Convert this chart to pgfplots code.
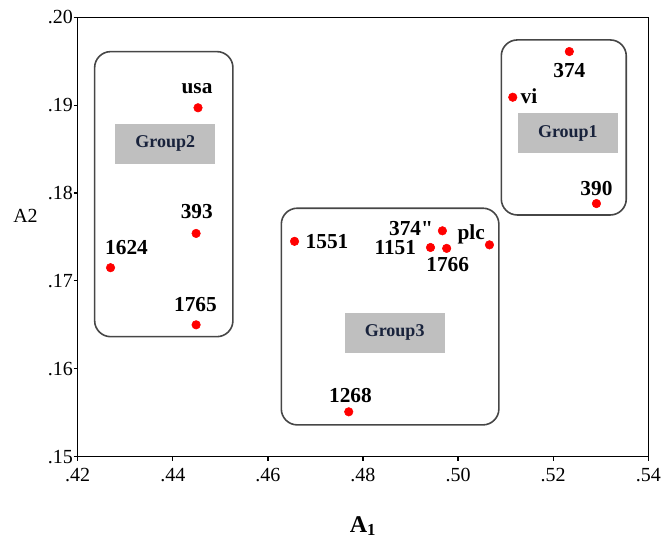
\documentclass[border=0pt]{standalone}
\usepackage{pgfplots}
\pgfplotsset{compat=1.18}
\usepackage{pgfplotstable}
\usepackage{fontspec}
\setmainfont{Liberation Serif}
\newfontfamily\rawserif{Liberation Serif}[Ligatures=TeXOff]
\newcommand\qlabel{{\rawserif 374"}}
\definecolor{grpgray}{RGB}{191,191,191}
\definecolor{boxline}{RGB}{70,70,70}
\definecolor{grptext}{RGB}{25,35,60}

\pgfplotstableread{
x y label dx dy
0.4453 0.1897 usa -0.75 14.5
0.4449 0.1754 393 0.5 16.2
0.4269 0.1715 1624 12 15.3
0.4449 0.1650 1765 -0.5 15
0.4656 0.1745 1551 24.4 0
0.4967 0.1757 {\qlabel} -23.5 2.0
0.4942 0.1738 1151 -26.4 0
0.4976 0.1737 1766 0.75 -12.5
0.5066 0.1741 plc -13.7 7.5
0.4770 0.1551 1268 1.3 12.5
0.5234 0.1961 374 0 -14
0.5115 0.1909 vi 12.1 0.5
0.5291 0.1788 390 0 11.3
}\pts

\begin{document}
\begin{tikzpicture}
\path[use as bounding box] (-58.3pt,-61.7pt) rectangle (440.5pt,342.5pt);
\begin{axis}[
  at={(0pt,0pt)}, anchor=south west,
  width=427.95pt, height=329.55pt, scale only axis,
  xmin=0.42, xmax=0.54, ymin=0.15, ymax=0.20,
  xtick={0.42,0.44,0.46,0.48,0.50,0.52,0.54},
  xticklabels={.42,.44,.46,.48,.50,.52,.54},
  ytick={0.15,0.16,0.17,0.18,0.19,0.20},
  yticklabels={.15,.16,.17,.18,.19,.20},
  tick pos=left, tick align=outside,
  major tick length=3pt,
  tick style={black, line width=0.9pt},
  axis line style={black, line width=1.1pt},
  ticklabel style={font=\fontsize{15}{17}\selectfont},
  xticklabel style={yshift=-2.5pt},
  yticklabel style={inner xsep=0.5pt},
  xlabel={\textbf{A\textsubscript{1}}},
  xlabel style={at={(rel axis cs:0.5,-0.158)}, anchor=center, font=\fontsize{18}{20}\selectfont},
  ylabel={A2},
  ylabel style={at={(rel axis cs:-0.0915,0.548)}, anchor=center, rotate=-90, font=\fontsize{15}{17}\selectfont},
  clip=false,
]
\draw[boxline, line width=1.2pt, rounded corners=12pt] (axis cs:0.42356,0.16365) rectangle (axis cs:0.45264,0.19609);
\draw[boxline, line width=1.2pt, rounded corners=12pt] (axis cs:0.46282,0.15361) rectangle (axis cs:0.50858,0.17827);
\draw[boxline, line width=1.2pt, rounded corners=12pt] (axis cs:0.50909,0.17750) rectangle (axis cs:0.53537,0.19742);
\node[fill=grpgray, minimum width=75pt, minimum height=30pt, inner sep=0pt, text=grptext, font=\bfseries\fontsize{13.5}{15}\selectfont] at (axis cs:0.43842,0.18562) {Group2};
\node[fill=grpgray, minimum width=75pt, minimum height=30pt, inner sep=0pt, text=grptext, font=\bfseries\fontsize{13.5}{15}\selectfont] at (axis cs:0.48666,0.16411) {Group3};
\node[fill=grpgray, minimum width=75pt, minimum height=30pt, inner sep=0pt, text=grptext, font=\bfseries\fontsize{13.5}{15}\selectfont] at (axis cs:0.52309,0.18680) {Group1};
\addplot[only marks, mark=*, mark size=3.2pt, color=red, mark options={draw=red, fill=red},
  nodes near coords, point meta=explicit symbolic,
  visualization depends on={\thisrow{dx}\as\ldx},
  visualization depends on={\thisrow{dy}\as\ldy},
  every node near coord/.append style={anchor=center, xshift=\ldx pt, yshift=\ldy pt, text=black, inner sep=0pt, font=\bfseries\fontsize{16}{18}\selectfont}
] table[x=x, y=y, meta=label] {\pts};
\end{axis}
\end{tikzpicture}
\end{document}
